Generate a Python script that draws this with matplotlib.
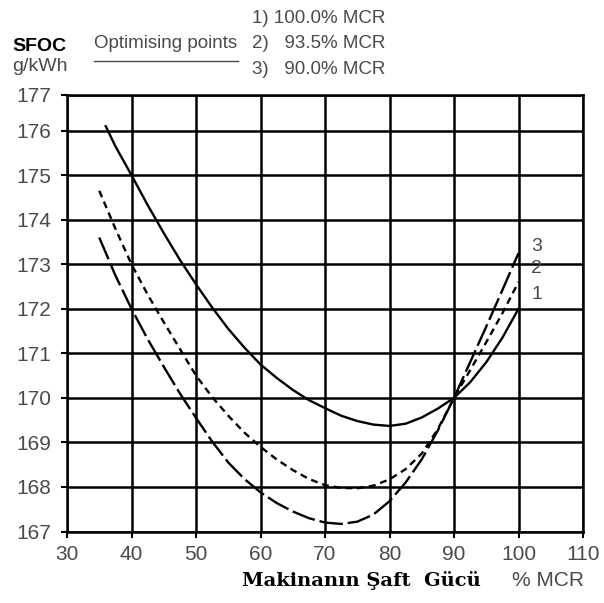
import numpy as np
import matplotlib
matplotlib.use("Agg")
import matplotlib.pyplot as plt

# SFOC curves (x = % MCR, y = g/kWh)
x_100 = [36, 37.5, 40, 42.5, 45, 47.5, 50, 52.5, 55, 57.5, 60, 62.5, 65, 67.5, 70,
         72.5, 75, 77.5, 80, 82.5, 85, 87.5, 90, 92.5, 95, 97.5, 100]
sfoc_100 = [176.1, 175.65, 175.0, 174.33, 173.7, 173.1, 172.55, 172.03, 171.55, 171.13,
            170.75, 170.45, 170.18, 169.95, 169.77, 169.6, 169.48, 169.4, 169.37, 169.42,
            169.56, 169.76, 170.0, 170.35, 170.8, 171.35, 172.0]

x_935 = [35, 37.5, 40, 42.5, 45, 47.5, 50, 52.5, 55, 57.5, 60, 62.5, 65, 67.5, 70,
         72.5, 75, 77.5, 80, 82.5, 85, 87.5, 90, 92.5, 95, 97.5, 100]
sfoc_935 = [174.65, 173.8, 173.0, 172.32, 171.7, 171.1, 170.5, 170.02, 169.6, 169.22,
            168.9, 168.62, 168.38, 168.18, 168.04, 167.98, 167.97, 168.03, 168.17, 168.4,
            168.75, 169.3, 170.0, 170.62, 171.25, 171.9, 172.6]

x_90 = [35, 37.5, 40, 42.5, 45, 47.5, 50, 52.5, 55, 57.5, 60, 62.5, 65, 67.5, 70,
        72.5, 75, 77.5, 80, 82.5, 85, 87.5, 90, 92.5, 95, 97.5, 100]
sfoc_90 = [173.6, 172.75, 172.0, 171.32, 170.7, 170.1, 169.55, 169.02, 168.55, 168.18,
           167.88, 167.64, 167.45, 167.3, 167.2, 167.17, 167.22, 167.38, 167.68, 168.1,
           168.62, 169.27, 170.0, 170.8, 171.6, 172.42, 173.25]

x_ticks = [30, 40, 50, 60, 70, 80, 90, 100, 110]
y_ticks = [167, 168, 169, 170, 171, 172, 173, 174, 175, 176]
y_top = 176.8  # frame top of the scan, labelled 177

plt.rcParams['font.family'] = ['Liberation Sans', 'DejaVu Sans']
plt.rcParams['lines.scale_dashes'] = False
gray = '#4a4a4a'
W, H = 604, 603

fig = plt.figure(figsize=(6.04, 6.03), dpi=100)
ax = fig.add_axes([67 / W, 1 - 531.5 / H, (583 - 67) / W, (531.5 - 95) / H])

ax.plot(x_100, sfoc_100, color='black', lw=1.7, solid_joinstyle='round')
ax.plot(x_935, sfoc_935, color='black', lw=1.7, dashes=(5, 3.5))
ax.plot(x_90, sfoc_90, color='black', lw=1.7, dashes=(17, 3.5))

ax.set_xlim(30, 110)
ax.set_ylim(167, y_top)
ax.set_xticks(x_ticks)
ax.set_yticks(y_ticks + [y_top])
ax.set_yticklabels([str(v) for v in y_ticks] + ['177'])
ax.grid(True, color='black', lw=1.8)
ax.set_axisbelow(True)
for s in ax.spines.values():
    s.set_linewidth(1.8)
ax.tick_params(direction='out', length=4.5, width=1.5, colors='black',
               labelcolor=gray, labelsize=15)
ax.tick_params(axis='y', pad=7)
ax.tick_params(axis='x', pad=5)

# curve numbers at the right ends
for lab, yv in [('3', 173.4), ('2', 172.9), ('1', 172.33)]:
    ax.text(102.0, yv, lab, color=gray, fontsize=14, va='center', ha='left')

def ftext(px, py, s, **kw):
    fig.text(px / W, 1 - py / H, s, **kw)

ftext(12, 51, 'SFOC', fontsize=14, fontweight='bold', color='black', va='baseline')
ftext(12, 71, 'g/kWh', fontsize=14, color=gray, va='baseline')
ftext(94, 48, 'Optimising points', fontsize=13.5, color=gray, va='baseline')
fig.add_artist(plt.Line2D([94 / W, 238 / W], [1 - 61 / H, 1 - 61 / H], color=gray, lw=1.0))
ftext(252, 23, '1) 100.0% MCR', fontsize=13.5, color=gray, va='baseline')
ftext(252, 48, '2)   93.5% MCR', fontsize=13.5, color=gray, va='baseline')
ftext(252, 74, '3)   90.0% MCR', fontsize=13.5, color=gray, va='baseline')

ftext(242, 580, 'Makinanın Şaft  Gücü', fontsize=14, fontweight='bold', color='black',
      family='DejaVu Serif', va='center')
ftext(512, 580, '% MCR', fontsize=15, color=gray, va='center')

fig.savefig('out.png', dpi=100)
